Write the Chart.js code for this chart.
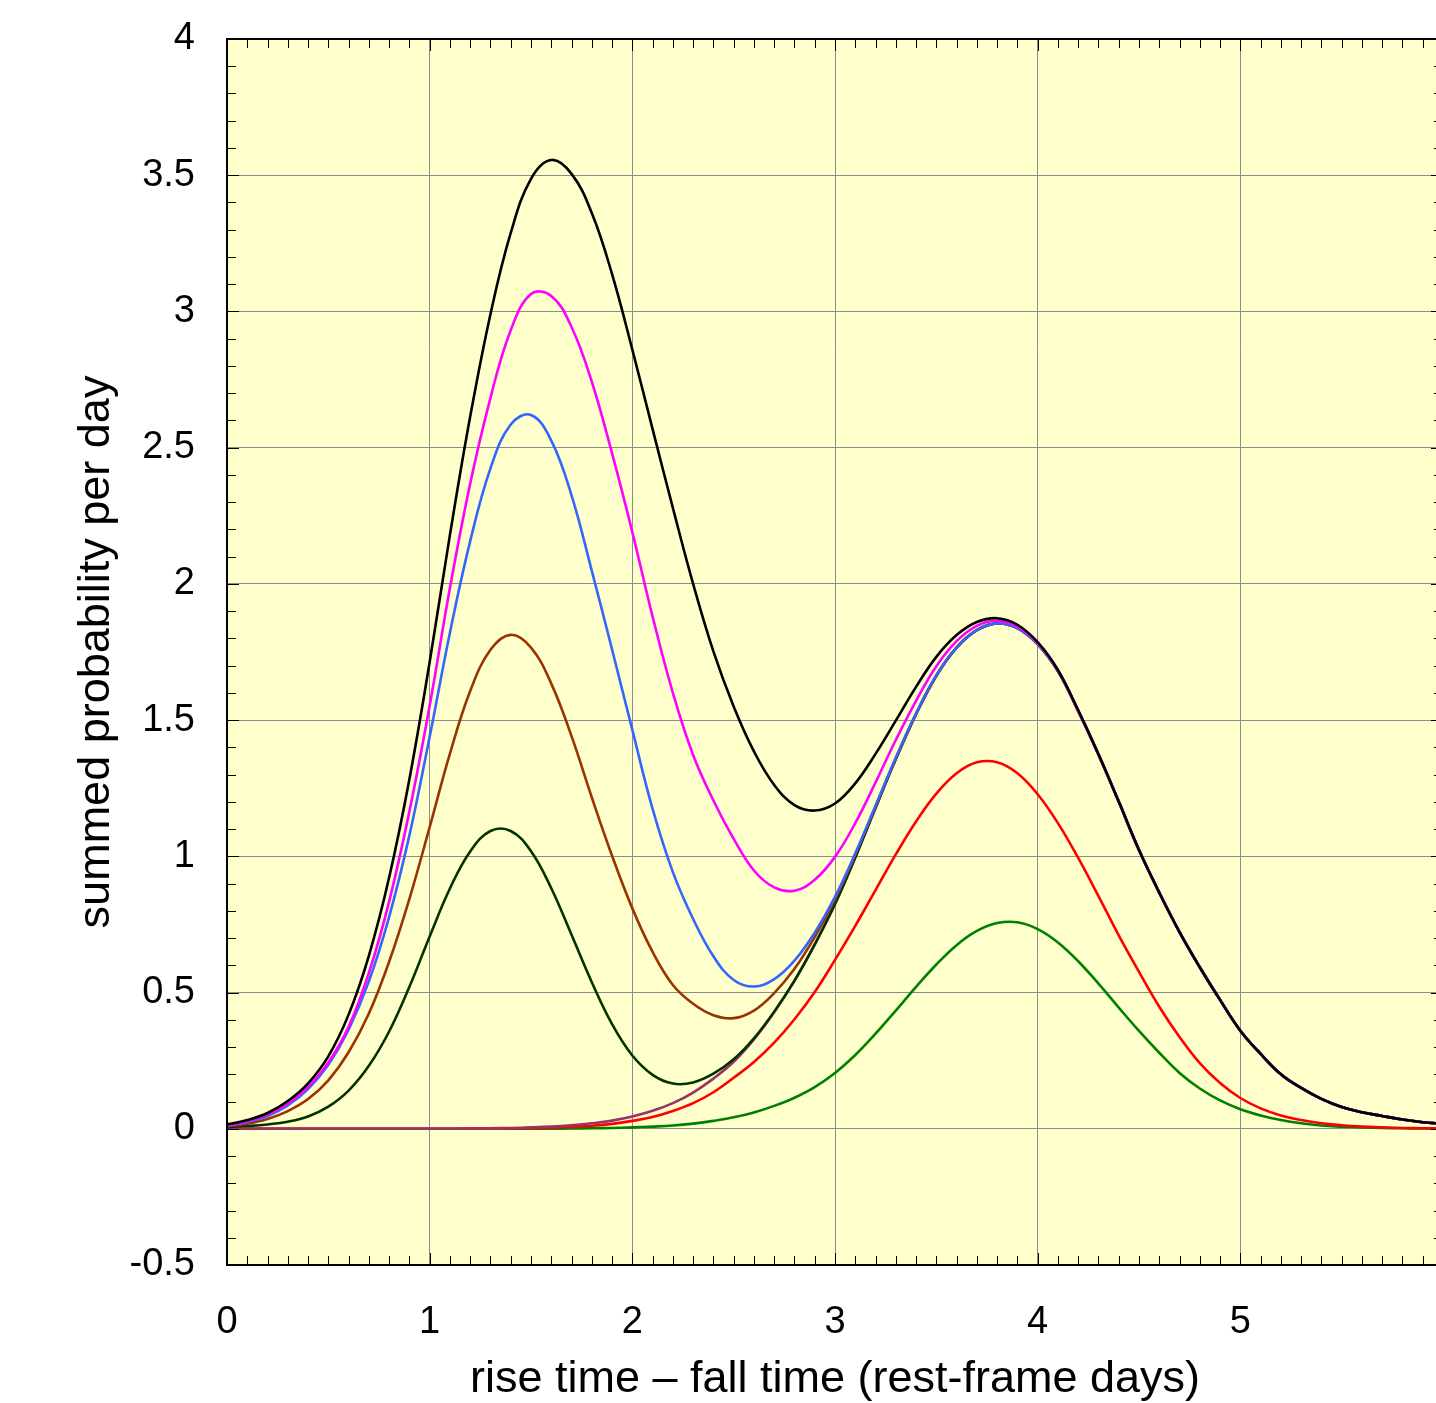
<!DOCTYPE html>
<html>
<head>
<meta charset="utf-8">
<script src="https://cdn.jsdelivr.net/npm/chart.js@4.4.0/dist/chart.umd.min.js"></script>
<style>
  html, body { margin: 0; padding: 0; background: #ffffff; overflow: hidden; }
  #wrap { width: 1460px; height: 1403px; }
</style>
</head>
<body>
<div id="wrap"><canvas id="riseFall" width="1460" height="1403"></canvas></div>
<script>
// rise time - fall time (days), sampled every 0.1
const xDays = [0, 0.1, 0.2, 0.3, 0.4, 0.5, 0.6, 0.7, 0.8, 0.9,
  1.0, 1.1, 1.2, 1.3, 1.4, 1.5, 1.6, 1.7, 1.8, 1.9,
  2.0, 2.1, 2.2, 2.3, 2.4, 2.5, 2.6, 2.7, 2.8, 2.9,
  3.0, 3.1, 3.2, 3.3, 3.4, 3.5, 3.6, 3.7, 3.8, 3.9,
  4.0, 4.1, 4.2, 4.3, 4.4, 4.5, 4.6, 4.7, 4.8, 4.9,
  5.0, 5.1, 5.2, 5.3, 5.4, 5.5, 5.6, 5.7, 5.8, 5.9, 6.0];

// summed probability per day, one array per curve
const totalBlack = [0.016, 0.032, 0.058, 0.102, 0.167, 0.266, 0.419, 0.635, 0.922, 1.283,
  1.713, 2.180, 2.614, 2.990, 3.288, 3.487, 3.556, 3.505, 3.361, 3.137,
  2.860, 2.568, 2.279, 2.000, 1.752, 1.550, 1.385, 1.262, 1.188, 1.168,
  1.194, 1.268, 1.376, 1.498, 1.622, 1.732, 1.812, 1.860, 1.874, 1.850,
  1.786, 1.684, 1.536, 1.375, 1.201, 1.023, 0.867, 0.722, 0.593, 0.473,
  0.360, 0.275, 0.200, 0.150, 0.110, 0.080, 0.061, 0.047, 0.034, 0.024, 0.018];

const magenta = [0.013, 0.028, 0.052, 0.092, 0.154, 0.243, 0.374, 0.572, 0.834, 1.165,
  1.553, 1.985, 2.368, 2.683, 2.931, 3.064, 3.057, 2.943, 2.742, 2.479,
  2.190, 1.880, 1.600, 1.372, 1.205, 1.064, 0.948, 0.886, 0.874, 0.914,
  0.998, 1.122, 1.271, 1.427, 1.571, 1.698, 1.790, 1.846, 1.865, 1.844,
  1.783, 1.682, 1.534, 1.374, 1.201, 1.023, 0.867, 0.722, 0.593, 0.473,
  0.360, 0.275, 0.200, 0.150, 0.110, 0.080, 0.061, 0.047, 0.034, 0.024, 0.018];

const blue = [0.011, 0.025, 0.047, 0.086, 0.146, 0.235, 0.364, 0.541, 0.778, 1.077,
  1.439, 1.821, 2.157, 2.424, 2.585, 2.620, 2.526, 2.325, 2.048, 1.759,
  1.464, 1.174, 0.942, 0.770, 0.633, 0.546, 0.522, 0.549, 0.617, 0.720,
  0.851, 1.011, 1.186, 1.362, 1.524, 1.664, 1.766, 1.830, 1.855, 1.838,
  1.779, 1.680, 1.534, 1.374, 1.201, 1.023, 0.867, 0.722, 0.593, 0.473,
  0.360, 0.275, 0.200, 0.150, 0.110, 0.080, 0.061, 0.047, 0.034, 0.024, 0.018];

const brown = [0.009, 0.019, 0.036, 0.065, 0.109, 0.178, 0.281, 0.423, 0.613, 0.844,
  1.107, 1.377, 1.607, 1.758, 1.813, 1.766, 1.634, 1.441, 1.216, 1.002,
  0.809, 0.649, 0.528, 0.459, 0.417, 0.406, 0.434, 0.498, 0.587, 0.704,
  0.842, 1.006, 1.184, 1.360, 1.523, 1.663, 1.766, 1.830, 1.855, 1.838,
  1.779, 1.680, 1.534, 1.374, 1.201, 1.023, 0.867, 0.722, 0.593, 0.473,
  0.360, 0.275, 0.200, 0.150, 0.110, 0.080, 0.061, 0.047, 0.034, 0.024, 0.018];

const darkGreen = [0.006, 0.010, 0.016, 0.026, 0.045, 0.081, 0.140, 0.231, 0.357, 0.521,
  0.706, 0.882, 1.018, 1.093, 1.093, 1.019, 0.883, 0.712, 0.538, 0.384,
  0.269, 0.198, 0.166, 0.170, 0.202, 0.255, 0.332, 0.430, 0.544, 0.677,
  0.825, 0.996, 1.178, 1.357, 1.522, 1.663, 1.766, 1.830, 1.855, 1.838,
  1.779, 1.680, 1.534, 1.374, 1.201, 1.023, 0.867, 0.722, 0.593, 0.473,
  0.360, 0.275, 0.200, 0.150, 0.110, 0.080, 0.061, 0.047, 0.034, 0.024, 0.018];

const mauve = [0, 0, 0, 0, 0, 0, 0, 0, 0, 0,
  0, 0, 0.001, 0.002, 0.003, 0.005, 0.008, 0.013, 0.020, 0.030,
  0.045, 0.066, 0.094, 0.133, 0.184, 0.246, 0.328, 0.428, 0.543, 0.676,
  0.825, 0.996, 1.178, 1.357, 1.522, 1.663, 1.766, 1.830, 1.855, 1.838,
  1.779, 1.680, 1.534, 1.374, 1.201, 1.023, 0.867, 0.722, 0.593, 0.473,
  0.360, 0.275, 0.200, 0.150, 0.110, 0.080, 0.061, 0.047, 0.034, 0.024, 0.018];

const red = [0, 0, 0, 0, 0, 0, 0, 0, 0, 0,
  0, 0, 0, 0.001, 0.001, 0.002, 0.004, 0.007, 0.011, 0.018,
  0.029, 0.043, 0.065, 0.094, 0.134, 0.187, 0.245, 0.316, 0.402, 0.502,
  0.620, 0.745, 0.876, 1.007, 1.128, 1.230, 1.305, 1.345, 1.345, 1.305,
  1.228, 1.122, 0.994, 0.854, 0.710, 0.576, 0.448, 0.337, 0.241, 0.168,
  0.113, 0.075, 0.049, 0.032, 0.020, 0.013, 0.008, 0.005, 0.003, 0.002, 0.001];

const green = [0, 0, 0, 0, 0, 0, 0, 0, 0, 0,
  0, 0, 0, 0, 0, 0, 0, 0.001, 0.002, 0.003,
  0.005, 0.008, 0.012, 0.019, 0.029, 0.042, 0.060, 0.084, 0.114, 0.153,
  0.205, 0.271, 0.349, 0.434, 0.521, 0.603, 0.674, 0.726, 0.755, 0.758,
  0.733, 0.684, 0.615, 0.533, 0.445, 0.359, 0.279, 0.205, 0.148, 0.104,
  0.072, 0.049, 0.032, 0.020, 0.012, 0.008, 0.005, 0.003, 0.002, 0.001, 0.001];

// first in list is drawn on top
const curves = [
  { values: totalBlack, color: "#000000" },
  { values: magenta, color: "#ff00ff" },
  { values: blue, color: "#3366ff" },
  { values: brown, color: "#993300" },
  { values: darkGreen, color: "#003300" },
  { values: mauve, color: "#993366" },
  { values: red, color: "#ff0000" },
  { values: green, color: "#008000" },
];

const font = "'Liberation Sans', Arial, sans-serif";

// yellow plot area, black frame and the small inward tick marks
const framePlugin = {
  id: "framePlugin",
  beforeDraw(chart) {
    const { ctx, chartArea: a } = chart;
    ctx.save();
    ctx.fillStyle = "#ffffcc";
    ctx.fillRect(a.left, a.top, a.right - a.left, a.bottom - a.top);
    ctx.restore();
  },
  afterDraw(chart) {
    const { ctx, chartArea: a, scales } = chart;
    const x = scales.x, y = scales.y;
    ctx.save();
    ctx.strokeStyle = "#000000";
    ctx.lineWidth = 1;
    ctx.beginPath();
    for (let i = 0; i <= 60; i++) {
      const px = Math.round(x.getPixelForValue(i / 10)) + 0.5;
      const len = i % 10 === 0 ? 12 : 9;
      ctx.moveTo(px, a.bottom);
      ctx.lineTo(px, a.bottom - len);
      ctx.moveTo(px, a.top);
      ctx.lineTo(px, a.top + len);
    }
    for (let i = -5; i <= 40; i++) {
      const py = Math.round(y.getPixelForValue(i / 10)) + 0.5;
      const len = i % 5 === 0 ? 12 : 9;
      ctx.moveTo(a.left, py);
      ctx.lineTo(a.left + len, py);
      ctx.moveTo(a.right, py);
      ctx.lineTo(a.right - len, py);
    }
    ctx.stroke();
    ctx.lineWidth = 2;
    ctx.strokeRect(a.left, a.top, a.right - a.left, a.bottom - a.top);
    ctx.restore();
  },
};

const ctx = document.getElementById("riseFall").getContext("2d");

new Chart(ctx, {
  type: "line",
  data: {
    datasets: curves.map((c) => ({
      data: xDays.map((d, i) => ({ x: d, y: c.values[i] })),
      borderColor: c.color,
      borderWidth: 2.6,
      pointRadius: 0,
      fill: false,
      tension: 0.4,
    })),
  },
  options: {
    responsive: false,
    animation: false,
    layout: { padding: { top: 39, right: 17, left: 0, bottom: 0 } },
    plugins: {
      legend: { display: false },
      tooltip: { enabled: false },
    },
    scales: {
      x: {
        type: "linear",
        min: 0,
        max: 6,
        afterFit: (scale) => {
          scale.height = 138;
          scale.paddingLeft = 0;
          scale.paddingRight = 0;
        },
        ticks: {
          stepSize: 1,
          padding: 35,
          color: "#000000",
          font: { family: font, size: 38 },
          callback: (v) => (v === 6 ? "" : String(v)),
        },
        grid: { color: "#8c8c8c", lineWidth: 1, drawTicks: false },
        border: { display: false },
        title: {
          display: true,
          text: "rise time – fall time (rest-frame days)",
          color: "#000000",
          font: { family: font, size: 45, lineHeight: 1.05 },
          padding: { top: 0, bottom: 0 },
        },
      },
      y: {
        type: "linear",
        min: -0.5,
        max: 4,
        afterFit: (scale) => {
          scale.width = 227;
          scale.paddingTop = 0;
          scale.paddingBottom = 0;
        },
        ticks: {
          stepSize: 0.5,
          padding: 32,
          color: "#000000",
          font: { family: font, size: 38 },
          callback: (v) => String(Number(v.toFixed(1))),
        },
        grid: { color: "#8c8c8c", lineWidth: 1, drawTicks: false },
        border: { display: false },
        title: {
          display: true,
          text: "summed probability per day",
          color: "#000000",
          font: { family: font, size: 45 },
          padding: { top: 70, bottom: 0 },
        },
      },
    },
  },
  plugins: [framePlugin],
});
</script>
</body>
</html>
